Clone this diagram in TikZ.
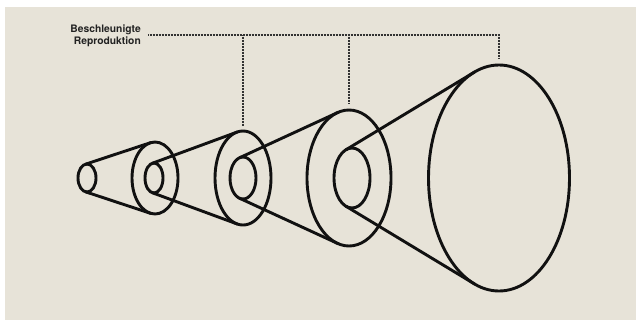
\documentclass[tikz,border=0pt]{standalone}
\usepackage{fontspec}
\setmainfont{TeX Gyre Heros}
\usetikzlibrary{shapes.geometric}
\definecolor{beige}{HTML}{E7E3D8}
\definecolor{ink}{HTML}{111111}
\definecolor{dotc}{HTML}{333333}
\definecolor{txt}{HTML}{222222}
\tikzset{
  ell/.style={ellipse, draw=ink, line width=2.9pt, inner sep=0pt, outer sep=0pt},
  cone/.style={draw=ink, line width=2.9pt, line cap=round},
  dotline/.style={draw=dotc, line width=1.3pt, dash pattern=on 0.9pt off 0.6pt},
  lbl/.style={font=\fontsize{10.3}{11.5}\selectfont\bfseries, text=txt, align=right, inner sep=0pt}
}
\begin{document}
\begin{tikzpicture}[x=1pt,y=-1pt]
\useasboundingbox (0,0) rectangle (636,322);
\fill[white] (0,0) rectangle (636,322);
\fill[beige] (5,7) rectangle (636,320);
% ellipses
\node[ell, minimum width=18pt, minimum height=28pt] (e1) at (87,178) {};
\node[ell, minimum width=46pt, minimum height=72pt] (e2o) at (155,178) {};
\node[ell, minimum width=18pt, minimum height=30pt] (e2i) at (154,178) {};
\node[ell, minimum width=56pt, minimum height=94pt] (e3o) at (243,178) {};
\node[ell, minimum width=26pt, minimum height=42pt] (e3i) at (243,178) {};
\node[ell, minimum width=84pt, minimum height=136pt] (e4o) at (349,178) {};
\node[ell, minimum width=36pt, minimum height=60pt] (e4i) at (352,178) {};
\node[ell, minimum width=141pt, minimum height=226pt] (e5) at (499,178) {};
% cone tangents
\draw[cone] (e1.97.8) -- (e2o.97.7);
\draw[cone] (e1.-97.8) -- (e2o.-97.7);
\draw[cone] (e2i.97.5) -- (e3o.97.45);
\draw[cone] (e2i.-97.5) -- (e3o.-97.45);
\draw[cone] (e3i.100) -- (e4o.99.97);
\draw[cone] (e3i.-100) -- (e4o.-99.97);
\draw[cone] (e4i.102.3) -- (e5.103.3);
\draw[cone] (e4i.-102.3) -- (e5.-103.3);
% label and dotted leaders
\node[lbl, anchor=east] (lab) at (141,36) {Beschleunigte\\Reproduktion};
\coordinate (h0) at (148,35);
\coordinate (h3) at (499,35);
\draw[dotline] (h0) -- (h3) -- ([yshift=7pt]e5.north);
\draw[dotline] (e3o.north |- h0) -- ([yshift=5pt]e3o.north);
\draw[dotline] (e4o.north |- h0) -- ([yshift=7pt]e4o.north);
\end{tikzpicture}
\end{document}
